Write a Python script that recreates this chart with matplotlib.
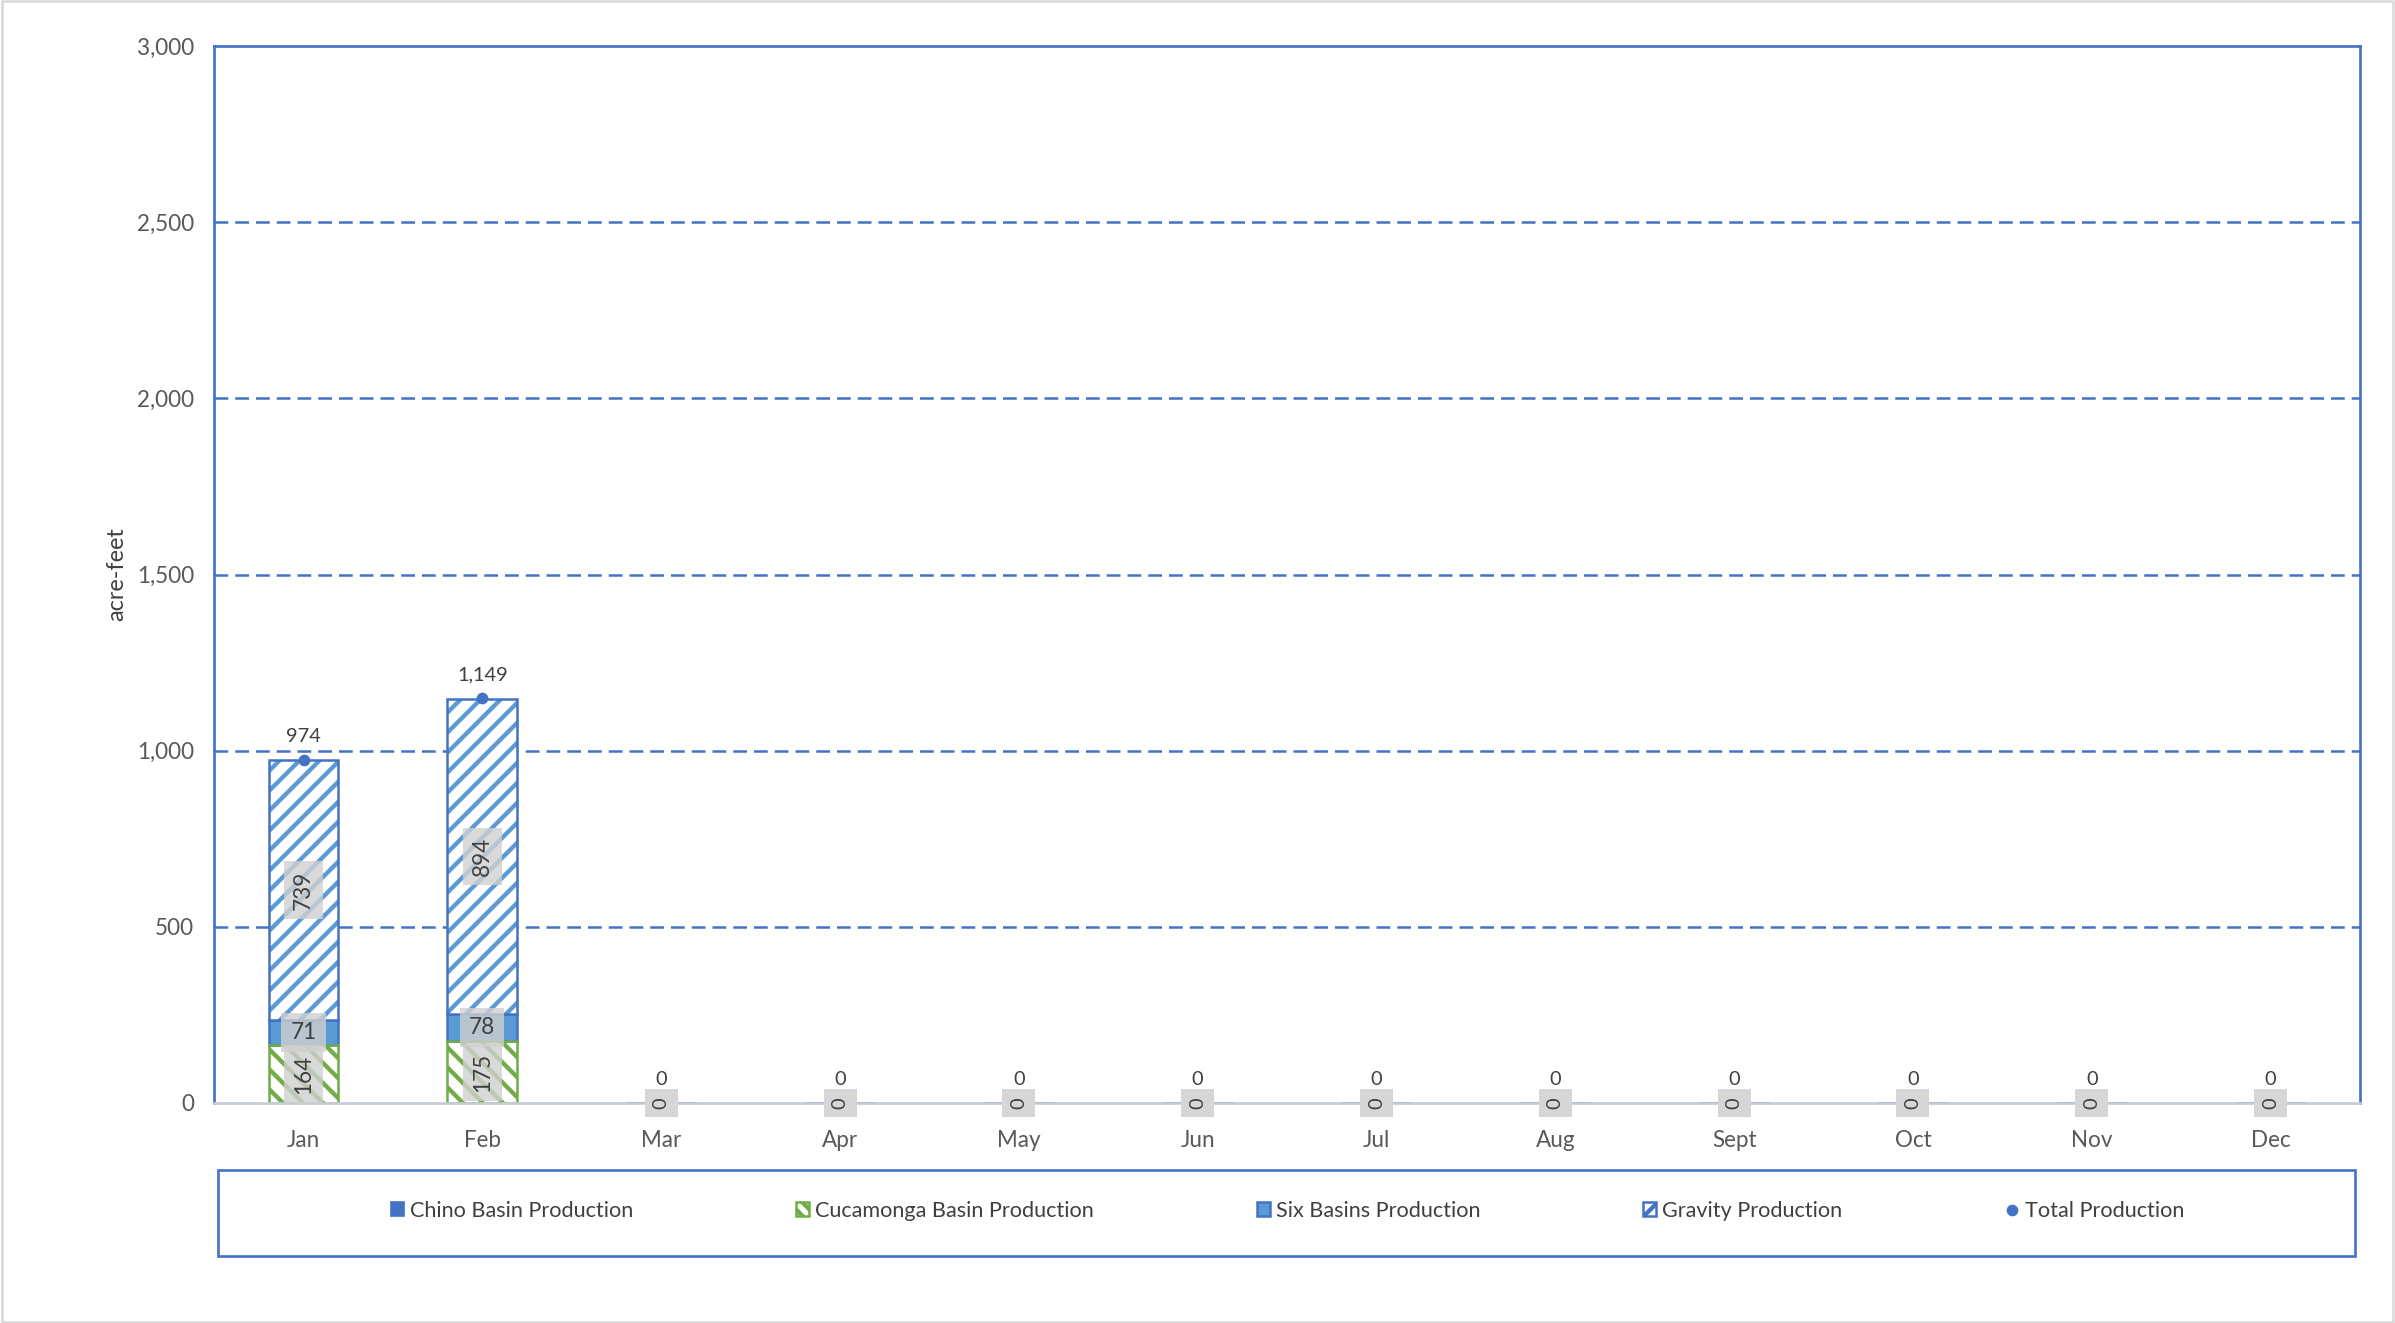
import numpy as np
import matplotlib.pyplot as plt
from matplotlib.patches import Patch, Rectangle
from matplotlib.lines import Line2D
from matplotlib.ticker import FuncFormatter

plt.rcParams['font.family'] = ['Lato', 'DejaVu Sans']
plt.rcParams['hatch.linewidth'] = 2.6

months = ['Jan', 'Feb', 'Mar', 'Apr', 'May', 'Jun', 'Jul', 'Aug', 'Sept', 'Oct', 'Nov', 'Dec']
chino = [0, 0, 0, 0, 0, 0, 0, 0, 0, 0, 0, 0]
cucamonga = [164, 175, 0, 0, 0, 0, 0, 0, 0, 0, 0, 0]
six_basins = [71, 78, 0, 0, 0, 0, 0, 0, 0, 0, 0, 0]
gravity = [739, 894, 0, 0, 0, 0, 0, 0, 0, 0, 0, 0]
total = [974, 1149, 0, 0, 0, 0, 0, 0, 0, 0, 0, 0]

DARK = '#4472C4'
LIGHT = '#5B9BD5'
GREEN = '#70AD47'
TXT = '#404040'

W, H, DPI = 2395, 1323, 120
fig = plt.figure(figsize=(W / DPI, H / DPI), dpi=DPI)
ax = fig.add_axes([0.0894, 0.1663, 0.8960, 0.7989])

x = np.arange(len(months))
width = 0.39
label_box = dict(boxstyle='square,pad=0.4', facecolor='#D0D0D0', edgecolor='none', alpha=0.8)

# series: (name, values, face, hatch colour, hatch, edge, rotate label)
series = [
    ('Chino Basin Production', chino, DARK, None, None, DARK, False),
    ('Cucamonga Basin Production', cucamonga, 'white', GREEN, '\\\\', GREEN, True),
    ('Six Basins Production', six_basins, LIGHT, None, None, DARK, False),
    ('Gravity Production', gravity, 'white', LIGHT, '//', DARK, True),
]

bottom = np.zeros(len(months))
for name, vals, face, hcol, hatch, edge, rot in series:
    vals = np.array(vals, dtype=float)
    if hatch:
        ax.bar(x, vals, width, bottom=bottom, facecolor=face, edgecolor=hcol,
               hatch=hatch, linewidth=0, zorder=2)
        ax.bar(x, vals, width, bottom=bottom, fill=False, edgecolor=edge,
               linewidth=1.5, zorder=3)
    else:
        ax.bar(x, vals, width, bottom=bottom, facecolor=face, edgecolor=edge,
               linewidth=1.5, zorder=2)
    for xi, v, b in zip(x, vals, bottom):
        if v > 0:
            ax.text(xi, b + v / 2, f"{v:,.0f}", ha='center', va='center',
                    rotation=90 if rot else 0, fontsize=13.5, color=TXT,
                    bbox=label_box, zorder=5)
    bottom += vals

ax.plot(x, total, linestyle='none', marker='o', markersize=6, color=DARK, zorder=6)

# zero months: stacked labels collapse onto the axis
for xi, t in zip(x, total):
    if t == 0:
        ax.text(xi, 0, "0", ha='center', va='center', rotation=90, fontsize=12,
                color=TXT, zorder=7,
                bbox=dict(boxstyle='square,pad=0.4', facecolor='#D6D6D6',
                          edgecolor='none'))

for xi, t in zip(x, total):
    ax.annotate(f"{t:,.0f}", (xi, t), xytext=(0, 9), textcoords='offset points',
                ha='center', va='bottom', fontsize=12, color=TXT, zorder=6)

ax.set_xlim(-0.5, len(months) - 0.5)
ax.set_ylim(0, 3000)
ax.set_yticks(np.arange(0, 3001, 500))
ax.yaxis.set_major_formatter(FuncFormatter(lambda v, p: f"{v:,.0f}"))
ax.set_xticks(x)
ax.set_xticklabels(months)
ax.tick_params(axis='both', length=0, labelsize=13.5, labelcolor='#595959')
ax.tick_params(axis='x', pad=16)
ax.tick_params(axis='y', pad=12)
ax.set_ylabel('acre-feet', fontsize=14, color='#404040', labelpad=6)

for yv in range(500, 3000, 500):
    ax.axhline(yv, color=DARK, linewidth=1.5, dashes=(5.5, 2.8), zorder=1)

for s in ['left', 'top', 'right']:
    ax.spines[s].set_color(DARK)
    ax.spines[s].set_linewidth(1.6)
ax.spines['bottom'].set_color('#C5CCD8')
ax.spines['bottom'].set_linewidth(1.6)
ax.spines['bottom'].set_zorder(4)

# legend frame and entries
fig.add_artist(Rectangle((0.091, 0.0506), 0.8923, 0.065, transform=fig.transFigure,
                         fill=False, edgecolor=DARK, linewidth=1.6))
handles = [
    Patch(facecolor=DARK, edgecolor=DARK),
    Patch(facecolor='white', edgecolor=GREEN, hatch='\\\\\\', linewidth=1.5),
    Patch(facecolor=LIGHT, edgecolor=DARK, linewidth=1.5),
    Patch(facecolor='white', edgecolor=DARK, hatch='//', linewidth=1.5),
    Line2D([], [], linestyle='none', marker='o', markersize=6, color=DARK),
]
labels = [s[0] for s in series] + ['Total Production']
fig.legend(handles, labels, ncol=5, loc='center', mode='expand',
           bbox_to_anchor=(0.155, 0.0847 - 0.02, 0.765, 0.04),
           frameon=False, fontsize=13, handlelength=0.6, handleheight=0.6,
           handletextpad=0.3, labelcolor=TXT)

fig.add_artist(Rectangle((0.001, 0.001), 0.998, 0.998, transform=fig.transFigure,
                         fill=False, edgecolor='#D9D9D9', linewidth=1.5))

fig.savefig('out.png', dpi=DPI)
